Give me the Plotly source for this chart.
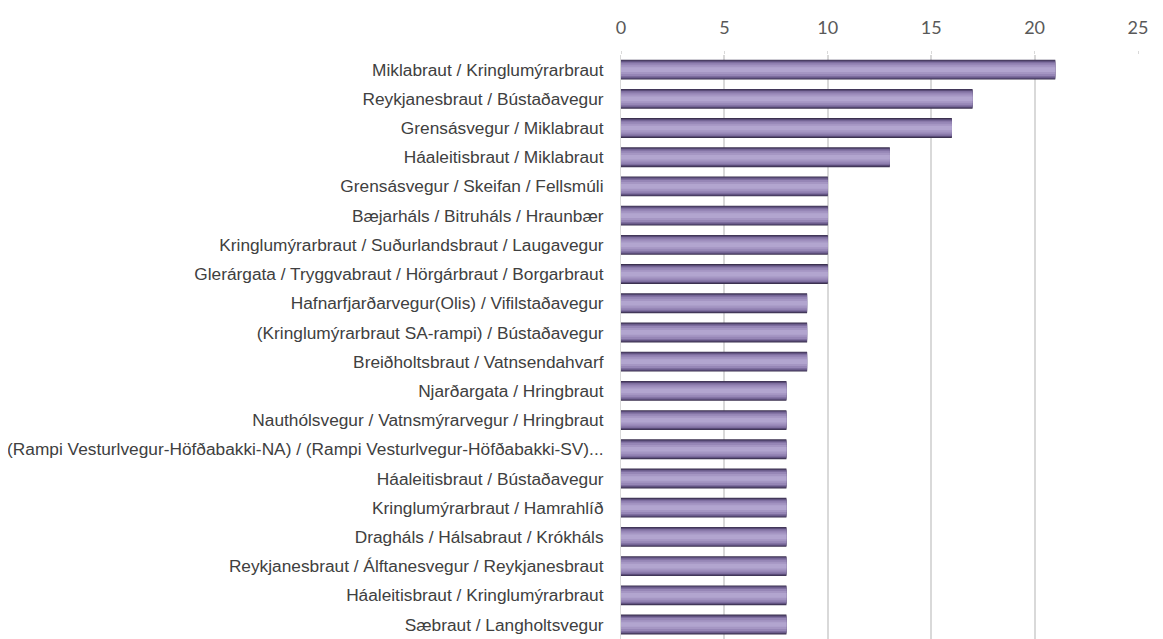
import plotly.graph_objects as go

# intersections and counts, top to bottom
intersections = [
    "Miklabraut / Kringlumýrarbraut",
    "Reykjanesbraut / Bústaðavegur",
    "Grensásvegur / Miklabraut",
    "Háaleitisbraut / Miklabraut",
    "Grensásvegur / Skeifan / Fellsmúli",
    "Bæjarháls / Bitruháls / Hraunbær",
    "Kringlumýrarbraut / Suðurlandsbraut / Laugavegur",
    "Glerárgata / Tryggvabraut / Hörgárbraut / Borgarbraut",
    "Hafnarfjarðarvegur(Olis) / Vifilstaðavegur",
    "(Kringlumýrarbraut SA-rampi) / Bústaðavegur",
    "Breiðholtsbraut / Vatnsendahvarf",
    "Njarðargata / Hringbraut",
    "Nauthólsvegur / Vatnsmýrarvegur / Hringbraut",
    "(Rampi Vesturlvegur-Höfðabakki-NA) / (Rampi Vesturlvegur-Höfðabakki-SV)...",
    "Háaleitisbraut / Bústaðavegur",
    "Kringlumýrarbraut / Hamrahlíð",
    "Dragháls / Hálsabraut / Krókháls",
    "Reykjanesbraut / Álftanesvegur / Reykjanesbraut",
    "Háaleitisbraut / Kringlumýrarbraut",
    "Sæbraut / Langholtsvegur",
]
counts = [21, 17, 16, 13, 10, 10, 10, 10, 9, 9, 9, 8, 8, 8, 8, 8, 8, 8, 8, 8]
x_ticks = [0, 5, 10, 15, 20, 25]

fig = go.Figure()

# fake the cylinder gradient with stacked, narrowing bars
bands = [
    (0.68, "#3b314f"),
    (0.62, "#5a4c78"),
    (0.54, "#7e6e9f"),
    (0.44, "#9686b6"),
    (0.30, "#a596c3"),
    (0.16, "#b2a5cf"),
]
for w, c in bands:
    fig.add_trace(go.Bar(
        x=counts,
        y=intersections,
        orientation="h",
        width=w,
        marker=dict(color=c, line=dict(width=0)),
        hoverinfo="x+y",
        showlegend=False,
    ))

fig.update_layout(
    width=1163,
    height=639,
    barmode="overlay",
    plot_bgcolor="white",
    paper_bgcolor="white",
    margin=dict(l=613, r=33, t=47, b=0),
    font=dict(family="Liberation Sans Narrow, Arial Narrow, Liberation Sans, sans-serif"),
)

fig.update_xaxes(
    side="top",
    range=[0, 25],
    tickvals=x_ticks,
    showgrid=True,
    gridcolor="#d9d9d9",
    gridwidth=1.5,
    zeroline=False,
    ticks="outside",
    ticklen=3,
    tickcolor="#d9d9d9",
    tickfont=dict(family="Lato, Open Sans, sans-serif", size=18, color="#595959"),
    ticklabelstandoff=10,
)

fig.update_yaxes(
    autorange=False,
    range=[19.77, -0.5],
    showgrid=False,
    showline=True,
    linecolor="#d9d9d9",
    linewidth=1,
    ticks="",
    ticklabelstandoff=13,
    tickfont=dict(size=17.3, color="#404040"),
)

fig.write_html("out.html")
